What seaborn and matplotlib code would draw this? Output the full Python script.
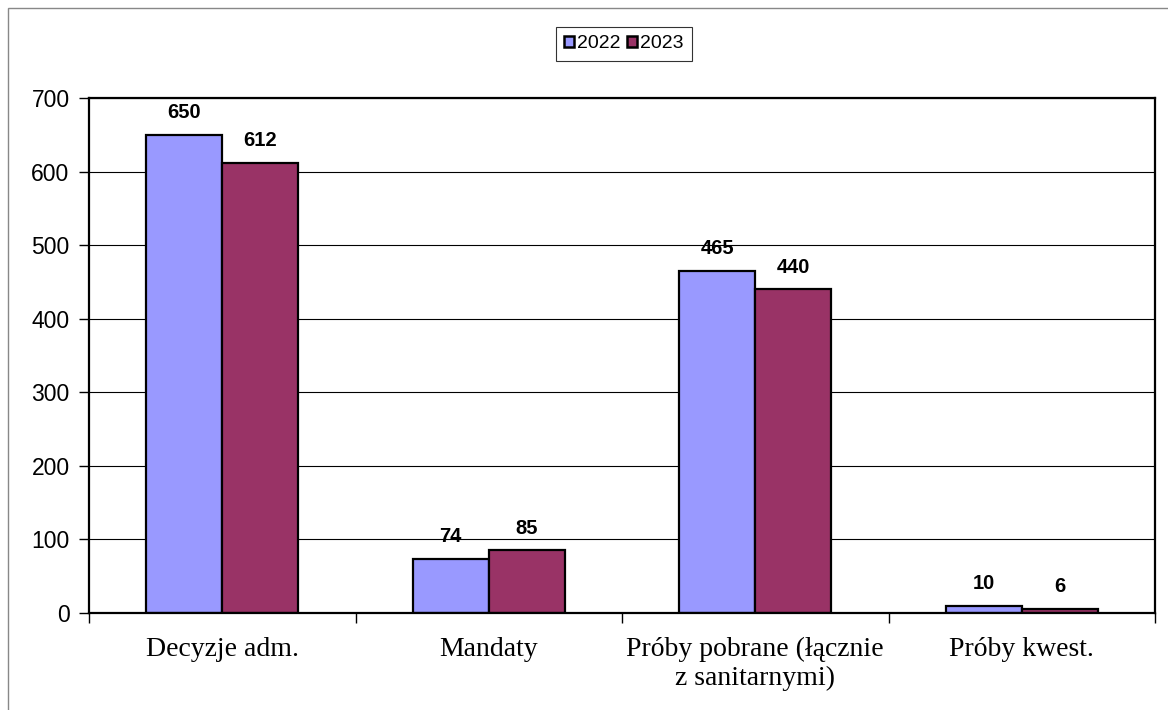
import matplotlib
matplotlib.use("Agg")
import matplotlib.pyplot as plt
from matplotlib.patches import Rectangle
import pandas as pd
import seaborn as sns

kategorie = ["Decyzje adm.", "Mandaty", "Próby pobrane (łącznie\nz sanitarnymi)", "Próby kwest."]
wartosci_2022 = [650, 74, 465, 10]
wartosci_2023 = [612, 85, 440, 6]
lata = ["2022", "2023"]
kolory = ["#9999FF", "#993366"]

df = pd.DataFrame({
    "kategoria": kategorie * 2,
    "wartosc": wartosci_2022 + wartosci_2023,
    "rok": [lata[0]] * 4 + [lata[1]] * 4,
})

sns.set_style("white")
plt.rcParams["font.family"] = ["Liberation Sans", "DejaVu Sans"]
plt.rcParams["text.color"] = "black"
plt.rcParams["xtick.color"] = "black"
plt.rcParams["ytick.color"] = "black"

fig = plt.figure(figsize=(11.68, 7.10), dpi=100)
ax = fig.add_axes([89 / 1168, 97 / 710, (1155 - 89) / 1168, (613 - 98) / 710])

sns.barplot(data=df, x="kategoria", y="wartosc", hue="rok", palette=kolory,
            saturation=1, width=0.57, gap=0, edgecolor="black", linewidth=1.6,
            ax=ax, legend=False)

for cont in ax.containers:
    ax.bar_label(cont, padding=9, fontsize=14.5, fontweight="bold", color="black")

ax.set_ylim(0, 700)
ax.set_xlim(-0.5, 3.5)
ax.set_yticks(range(0, 701, 100))
ax.yaxis.grid(True, color="black", linewidth=0.8)
ax.set_axisbelow(True)
ax.set_xlabel("")
ax.set_ylabel("")
for s in ax.spines.values():
    s.set_visible(True)
    s.set_color("black")
    s.set_linewidth(1.6)

ax.tick_params(axis="y", which="both", left=True, length=7, width=1, labelsize=16.5, pad=7)
ax.set_xticks([0, 1, 2, 3])
ax.set_xticklabels(kategorie, fontfamily="Liberation Serif", fontsize=20, linespacing=1.2)
ax.tick_params(axis="x", which="major", length=0, pad=17)
ax.set_xticks([-0.5, 0.5, 1.5, 2.5, 3.5], minor=True)
ax.tick_params(axis="x", which="minor", bottom=True, length=7, width=1)

handles = [Rectangle((0, 0), 1, 1, facecolor=c, edgecolor="black", linewidth=1.8) for c in kolory]
leg = ax.legend(handles, lata, loc="center", bbox_to_anchor=(624 / 1168, 666 / 710),
                bbox_transform=fig.transFigure, ncol=2, frameon=True, fancybox=False,
                fontsize=14, handlelength=0.5, handleheight=0.5, handletextpad=0.15,
                columnspacing=0.35, borderpad=0.45)
leg.get_frame().set_edgecolor("black")
leg.get_frame().set_linewidth(0.8)

fig.patches.append(Rectangle((8 / 1168, -0.05), 1.1, (702 / 710) + 0.05,
                             transform=fig.transFigure, fill=False,
                             edgecolor="#888888", linewidth=1))

fig.savefig("out.png", dpi=100)
